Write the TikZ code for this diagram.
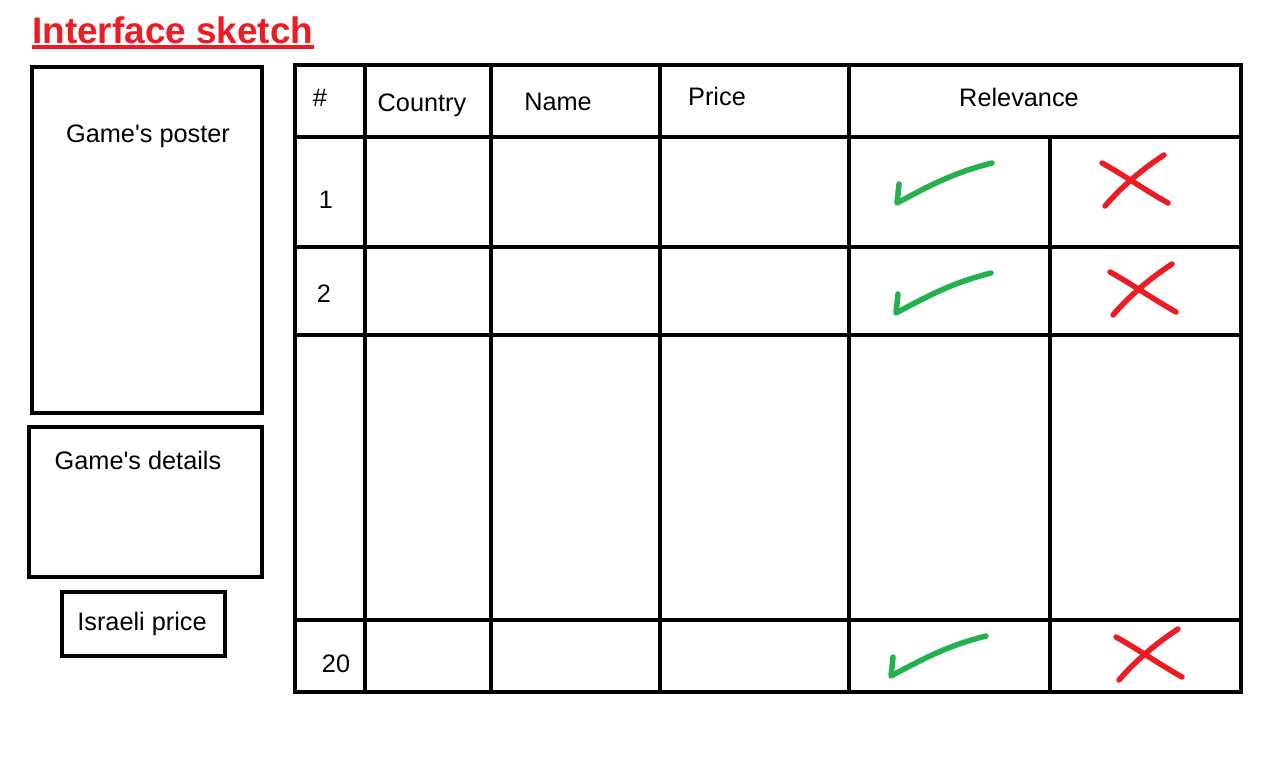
\documentclass[tikz,border=0pt]{standalone}
\usepackage{fontspec}
\setmainfont{Liberation Sans}
\definecolor{paintred}{RGB}{237,28,36}
\definecolor{paintgreen}{RGB}{34,177,76}
\tikzset{
  box/.style={line width=0.09cm},
  txt/.style={anchor=base, inner sep=0pt, font=\fontsize{14.4}{17}\selectfont},
  penline/.style={line width=0.11cm, line cap=round, line join=round},
  tick/.pic={
    \draw[penline, paintgreen] (2,-19) -- (0,0)
      .. controls (30,-16) and (55,-30) .. (95,-40);
  },
  cross/.pic={
    \draw[penline, paintred] (-28,-17) .. controls (-8,-6) and (15,10) .. (38,23);
    \draw[penline, paintred] (34,-25) .. controls (14,-12) and (-8,6) .. (-25,26);
  }
}
\begin{document}
\begin{tikzpicture}[x=0.02cm, y=-0.02cm]
  \useasboundingbox (0,0) rectangle (1283,775);
  % title
  \node[anchor=base west, inner sep=0pt, text=paintred,
        font=\fontsize{21}{25}\selectfont\bfseries] (title) at (32,43) {Interface sketch};
  \draw[paintred, line width=0.08cm] (title.base west) ++(0,4) -- ++(282,0);
  % left column
  \draw[box] (32,67) rectangle (262,413);
  \draw[box] (29,427) rectangle (262,577);
  \draw[box] (62,592) rectangle (225,656);
  \node[txt] (poster) at (148,142) {Game\textquotesingle s poster};
  \node[txt] (details) at (138,469) {Game\textquotesingle s details};
  \node[txt] (ilprice) at (142,630) {Israeli price};
  % table
  \draw[box] (295,65) rectangle (1241,692);
  \foreach \x in {365,491,660,849}
    \draw[box] (\x,65) -- (\x,692);
  \draw[box] (1050,137) -- (1050,692);
  \foreach \y in {137,247,335,620}
    \draw[box] (295,\y) -- (1241,\y);
  % header
  \node[txt] (hnum) at (320,106) {\#};
  \node[txt] (hcountry) at (422,111) {Country};
  \node[txt] (hname) at (558,110) {Name};
  \node[txt] (hprice) at (717,105) {Price};
  \node[txt] (hrel) at (1019,106) {Relevance};
  % rows
  \node[txt] (r1) at (326,208) {1};
  \node[txt] (r2) at (324,302) {2};
  \node[txt] (r20) at (336,672) {20};
  \pic at (897,203) {tick};
  \pic at (896,313) {tick};
  \pic at (891,676) {tick};
  \pic at (1130,180) {cross};
  \pic at (1138,289) {cross};
  \pic at (1144,654) {cross};
\end{tikzpicture}
\end{document}
